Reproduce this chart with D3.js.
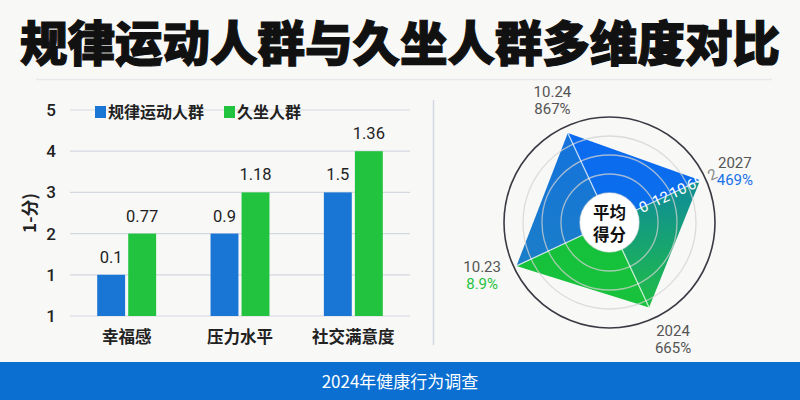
<!DOCTYPE html>
<html><head><meta charset="utf-8">
<script src="https://cdn.jsdelivr.net/npm/d3@7"></script>
<style>
html,body{margin:0;padding:0;background:#f8f8f7;}
svg{display:block;font-family:"Noto Sans CJK SC","Noto Sans",sans-serif;}
</style></head>
<body>
<svg id="c" width="800" height="400"></svg>
<script>
// ---- data ----
const title = "规律运动人群与久坐人群多维度对比";
const footer = "2024年健康行为调查";
const categories = ["幸福感", "压力水平", "社交满意度"];
const seriesNames = ["规律运动人群", "久坐人群"];
const activeValues = [1, 2, 3];
const sedentaryValues = [2, 3, 4];
const activeLabels = ["0.1", "0.9", "1.5"];
const sedentaryLabels = ["0.77", "1.18", "1.36"];
const yTickValues = [0, 1, 2, 3, 4, 5];
const yTickLabels = ["1", "1", "2", "3", "4", "5"];
const yAxisTitle = "1-分)";

const radarAxes = ["10.24", "2027", "2024", "10.23"];
const radarAxisSub = ["867%", "469%", "665%", "8.9%"];
const radarValues = [4.64, 4.71, 4.38, 4.85];
const radarRings = [1, 2, 3, 4];
const radarTickLevels = [1, 2, 3, 4, 5];
const radarTickLabels = ["0", "12", "10", "69", "2"];
const radarCenterText = ["平均", "得分"];

// ---- styles ----
const BLUE = "#1976d4", GREEN = "#22c33e";
const svg = d3.select("#c");

// title
svg.append("text").attr("x", 400).attr("y", 61).attr("text-anchor", "middle")
  .attr("font-size", 47.5).attr("font-weight", 900).attr("fill", "#111")
  .attr("stroke", "#111").attr("stroke-width", 1.2).text(title);
svg.append("line").attr("x1", 36).attr("x2", 772).attr("y1", 79.5).attr("y2", 79.5)
  .attr("stroke", "#e6e8ec").attr("stroke-width", 1.5);

// ---- bar chart ----
const y = d3.scaleLinear().domain([0, 5]).range([316, 110]);
const x0 = d3.scaleBand().domain(categories).range([70, 410]).paddingInner(0.48).paddingOuter(0.24);
const x1 = d3.scaleBand().domain(seriesNames).range([0, x0.bandwidth()]).paddingInner(0.1);

const g = svg.append("g");
g.selectAll("line.grid").data(yTickValues).join("line").attr("class", "grid")
  .attr("x1", 70).attr("x2", 410).attr("y1", d => y(d)).attr("y2", d => y(d))
  .attr("stroke", "#d4d8e2").attr("stroke-width", 1.2);

const yAxis = d3.axisLeft(y).tickValues(yTickValues).tickSize(0).tickPadding(0)
  .tickFormat((d, i) => yTickLabels[i]);
const ya = g.append("g").attr("transform", "translate(56,0)").call(yAxis);
ya.select(".domain").remove();
ya.selectAll("text").attr("font-size", 17).attr("fill", "#222").attr("font-family", "Roboto,'Noto Sans',sans-serif").attr("font-weight", 500);

g.append("text").attr("transform", "translate(36,213) rotate(-90)").attr("text-anchor", "middle")
  .attr("font-size", 17).attr("font-weight", 700).attr("fill", "#222").text(yAxisTitle);

const rows = categories.map((c, i) => ({c, vals: [
  {s: seriesNames[0], v: activeValues[i], l: activeLabels[i], col: BLUE},
  {s: seriesNames[1], v: sedentaryValues[i], l: sedentaryLabels[i], col: GREEN}]}));
const grp = g.selectAll("g.cat").data(rows).join("g").attr("class", "cat")
  .attr("transform", d => `translate(${x0(d.c)},0)`);
grp.selectAll("rect").data(d => d.vals).join("rect")
  .attr("x", d => x1(d.s)).attr("width", x1.bandwidth())
  .attr("y", d => y(d.v)).attr("height", d => y(0) - y(d.v)).attr("fill", d => d.col);
grp.selectAll("text.val").data(d => d.vals).join("text").attr("class", "val")
  .attr("x", d => x1(d.s) + x1.bandwidth() / 2).attr("y", d => y(d.v) - 12)
  .attr("text-anchor", "middle").attr("font-size", 16.5).attr("font-weight", 400)
  .attr("font-family", "Roboto,'Noto Sans',sans-serif").attr("fill", "#1e1e1e").text(d => d.l);

const xAxis = d3.axisBottom(x0).tickSize(0).tickPadding(0);
const xa = g.append("g").attr("transform", "translate(0,331)").call(xAxis);
xa.select(".domain").remove();
xa.selectAll("text").attr("font-size", 16.5).attr("font-weight", 700).attr("fill", "#222")
  .attr("font-family", "'Noto Sans CJK SC',sans-serif");

// legend
const legX = [95, 224];
seriesNames.forEach((s, i) => {
  svg.append("rect").attr("x", legX[i]).attr("y", 106).attr("width", 11).attr("height", 12)
    .attr("fill", i === 0 ? BLUE : GREEN);
  svg.append("text").attr("x", legX[i] + 13).attr("y", 118).attr("font-size", 16)
    .attr("font-weight", 600).attr("fill", "#222").text(s);
});

// separator
svg.append("line").attr("x1", 433.5).attr("x2", 433.5).attr("y1", 100).attr("y2", 345)
  .attr("stroke", "#d3d8e2").attr("stroke-width", 1.5);

// ---- radar ----
const cx = 609.5, cy = 222.5;
const r = d3.scaleLinear().domain([0, 5]).range([10.5, 105.5]);
const ang = d3.scaleLinear().domain([0, radarAxes.length]).range([-25, 335]);
const pt = (i, rad) => {
  const a = ang(i) * Math.PI / 180;
  return [cx + rad * Math.sin(a), cy - rad * Math.cos(a)];
};
const R = svg.append("g");
const defs = svg.append("defs");
function grad(id, x1_, y1_, x2_, y2_, c1, c2) {
  const lg = defs.append("linearGradient").attr("id", id).attr("gradientUnits", "userSpaceOnUse")
    .attr("x1", x1_).attr("y1", y1_).attr("x2", x2_).attr("y2", y2_);
  lg.append("stop").attr("offset", 0).attr("stop-color", c1);
  lg.append("stop").attr("offset", 1).attr("stop-color", c2);
}
const verts = radarValues.map((v, i) => pt(i, r(v)));
grad("g0", cx, 140, cx, 220, "#0b6bf0", "#0a6fea");
grad("g1", cx, 200, cx, 305, "#11928f", "#1fbd46");
grad("g2", cx, 240, cx, 305, "#15c13a", "#18c23c");
grad("g3", cx, 135, cx, 265, "#1472dc", "#1b7ec8");

// outer circle
R.append("circle").attr("cx", cx).attr("cy", cy).attr("r", r(5))
  .attr("fill", "none").attr("stroke", "#3a3a44").attr("stroke-width", 1.6);

// sectors
R.selectAll("path.sec").data(verts).join("path").attr("class", "sec")
  .attr("d", (d, i) => {
    const n = verts[(i + 1) % verts.length];
    return `M${cx},${cy}L${d[0]},${d[1]}L${n[0]},${n[1]}Z`;
  })
  .attr("fill", (d, i) => `url(#g${i})`);

// rings
R.selectAll("circle.ring").data(radarRings).join("circle").attr("class", "ring")
  .attr("cx", cx).attr("cy", cy).attr("r", d => r(d))
  .attr("fill", "none").attr("stroke", "#d2d2d2").attr("stroke-opacity", 0.75).attr("stroke-width", 1.3);

// spokes
R.selectAll("line.spoke").data(verts).join("line").attr("class", "spoke")
  .attr("x1", cx).attr("y1", cy).attr("x2", d => d[0]).attr("y2", d => d[1])
  .attr("stroke", "#ffffff").attr("stroke-opacity", 0.7).attr("stroke-width", 1.3);

// center disk
R.append("circle").attr("cx", cx).attr("cy", cy).attr("r", r(1)).attr("fill", "#fff");
R.selectAll("text.ctr").data(radarCenterText).join("text").attr("class", "ctr")
  .attr("x", cx).attr("y", (d, i) => cy - 4 + i * 22).attr("text-anchor", "middle")
  .attr("font-size", 16.5).attr("font-weight", 700).attr("fill", "#111").text(d => d);

// tick labels along axis 1
R.selectAll("text.tk").data(radarTickLevels).join("text").attr("class", "tk")
  .attr("transform", (d, i) => {
    const p = pt(1, r(d) + 8);
    return `translate(${p[0]},${p[1]}) rotate(${ang(1) - 90})`;
  })
  .attr("text-anchor", "middle").attr("dy", "0.35em").attr("font-size", 15)
  .attr("font-family", "Roboto,'Noto Sans',sans-serif")
  .attr("fill", (d, i) => i === radarTickLevels.length - 1 ? "#888" : "#fff")
  .text((d, i) => radarTickLabels[i]);

// axis labels
const subColors = ["#555", "#1a73e8", "#555", "#27c23f"];
const nudge = [[0, 0], [3, 5.5], [6.5, -6], [-5, -4.5]];
radarAxes.forEach((a, i) => {
  const p = pt(i, 135);
  const px = p[0] + nudge[i][0], py = p[1] + nudge[i][1];
  R.append("text").attr("x", px).attr("y", py - 3).attr("text-anchor", "middle")
    .attr("font-size", 15).attr("fill", "#555").attr("font-family", "Roboto,'Noto Sans',sans-serif").text(a);
  R.append("text").attr("x", px).attr("y", py + 14).attr("text-anchor", "middle")
    .attr("font-size", 15).attr("fill", subColors[i]).attr("font-family", "Roboto,'Noto Sans',sans-serif").text(radarAxisSub[i]);
});

// footer
svg.append("rect").attr("x", 0).attr("y", 362).attr("width", 800).attr("height", 38).attr("fill", "#0b6fd2");
svg.append("text").attr("x", 400).attr("y", 388).attr("text-anchor", "middle")
  .attr("font-size", 17).attr("font-weight", 400).attr("fill", "#fff").text(footer);
</script>
</body></html>
